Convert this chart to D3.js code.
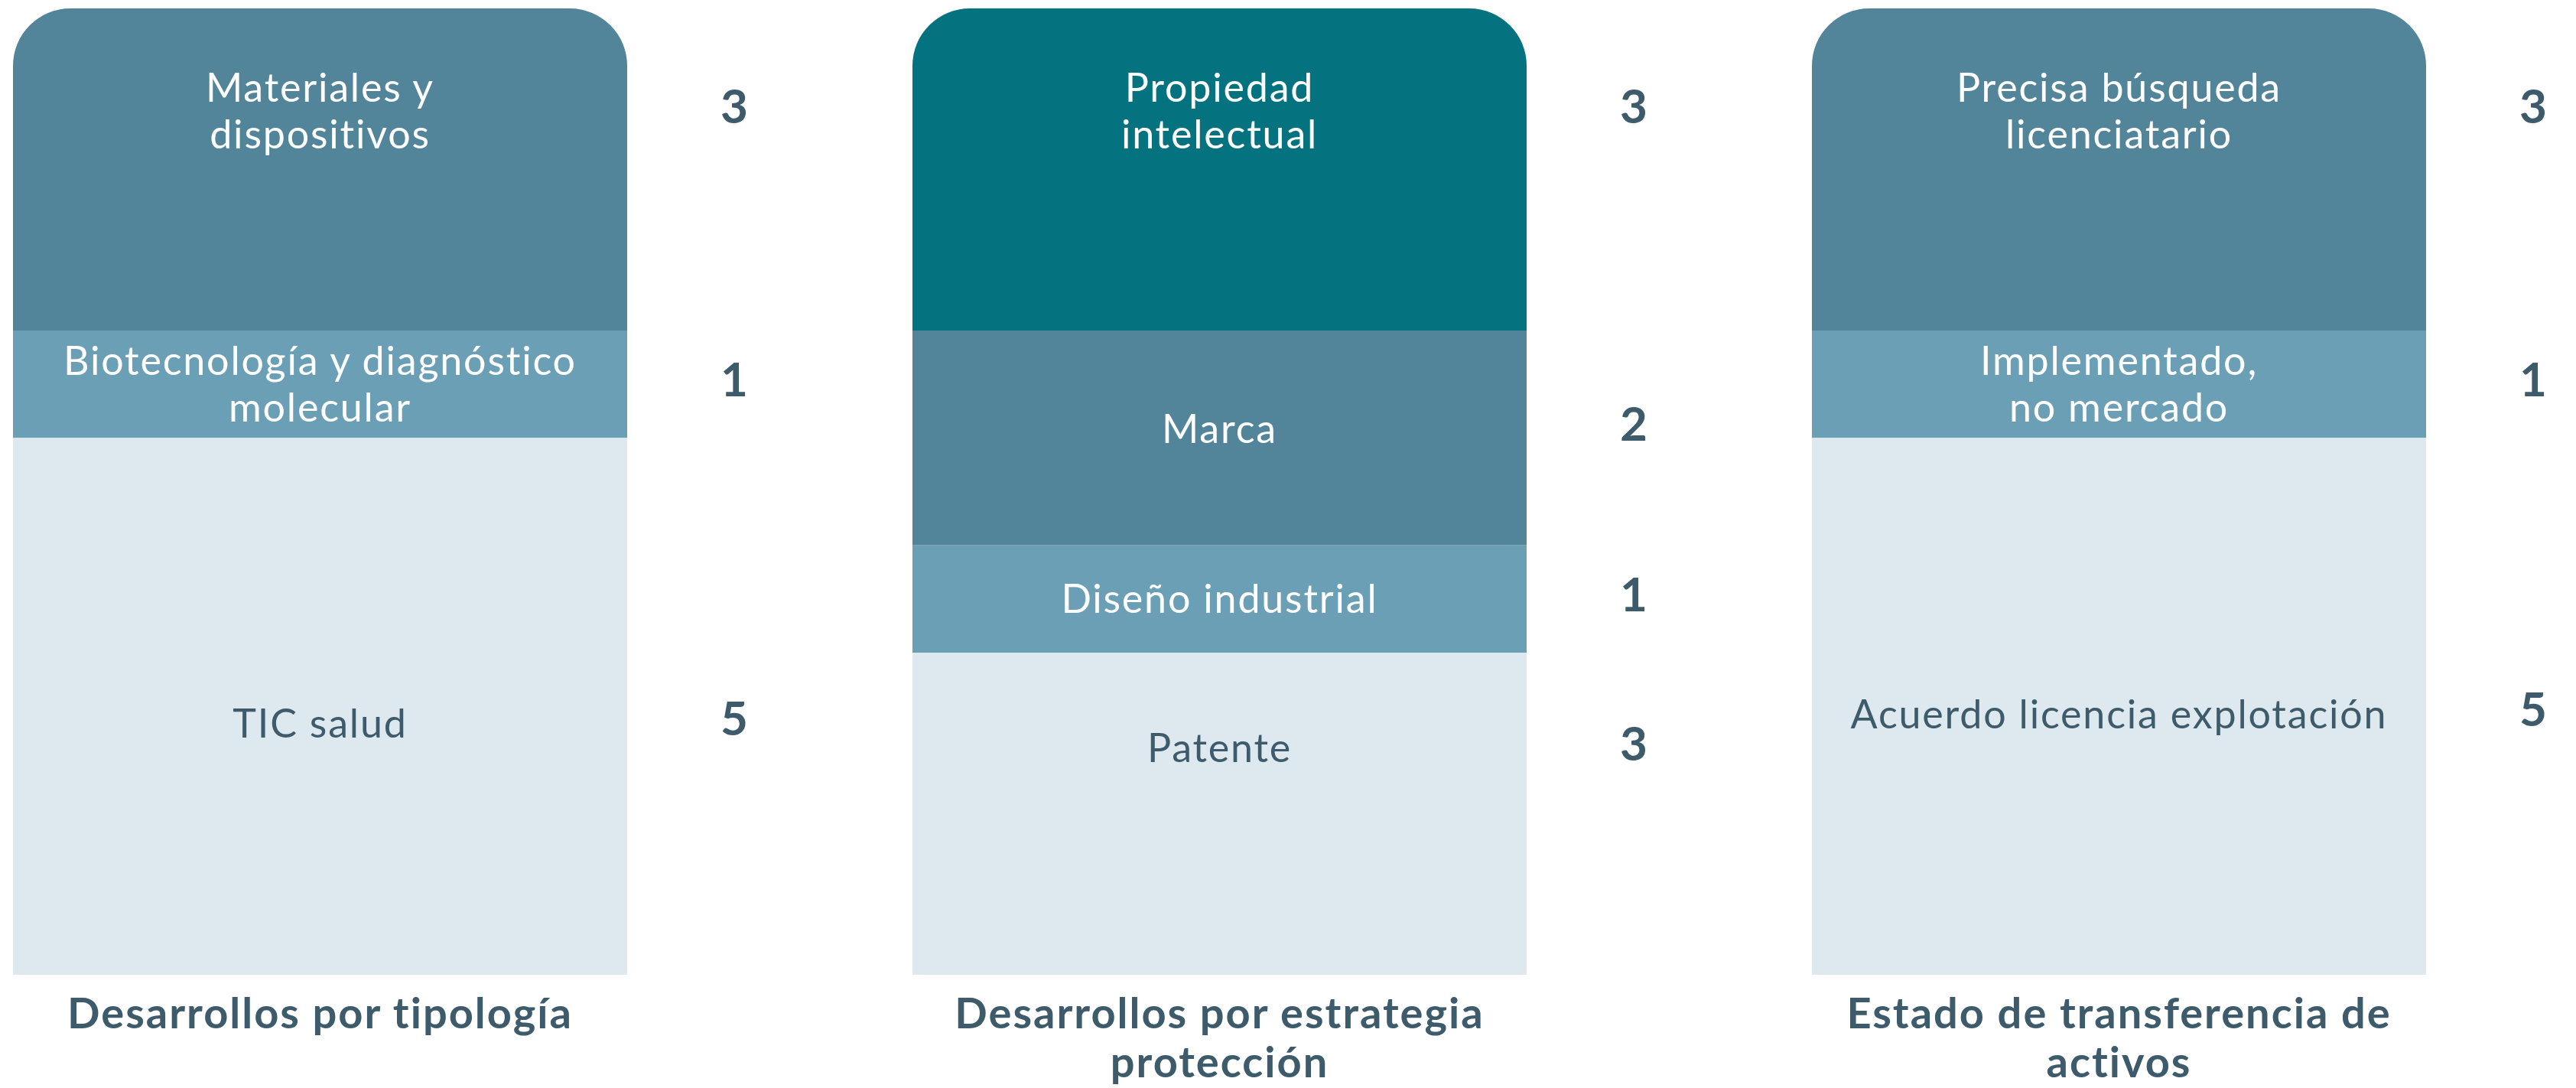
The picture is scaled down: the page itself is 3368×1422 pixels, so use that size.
<!DOCTYPE html>
<html><head><meta charset="utf-8">
<script src="https://cdn.jsdelivr.net/npm/d3@7"></script>
<style>html,body{margin:0;padding:0;background:#fff;}svg{display:block;}</style>
</head><body>
<svg id="chart" width="3368" height="1422"></svg>
<script>
// ---- data ----
const panelTitles = [
  ["Desarrollos por tipología"],
  ["Desarrollos por estrategia", "protección"],
  ["Estado de transferencia de", "activos"]
];
const tipologiaLabels = [["Materiales y", "dispositivos"], ["Biotecnología y diagnóstico", "molecular"], ["TIC salud"]];
const tipologiaValues = [3, 1, 5];
const estrategiaLabels = [["Propiedad", "intelectual"], ["Marca"], ["Diseño industrial"], ["Patente"]];
const estrategiaValues = [3, 2, 1, 3];
const transferenciaLabels = [["Precisa búsqueda", "licenciatario"], ["Implementado,", "no mercado"], ["Acuerdo licencia explotación"]];
const transferenciaValues = [3, 1, 5];

// ---- style / layout ----
const DARK = "#52849A", TEAL = "#04737F", MID = "#6A9FB5", LIGHT = "#DDE8EF", INK = "#3E5B6B";
const panelColors = [[DARK, MID, LIGHT], [TEAL, DARK, MID, LIGHT], [DARK, MID, LIGHT]];
const labelNudge = { "TIC salud": 22, "Patente": -86, "Marca": -12, "Acuerdo licencia explotación": 10 };

const panels = [
  { labels: tipologiaLabels, values: tipologiaValues },
  { labels: estrategiaLabels, values: estrategiaValues },
  { labels: transferenciaLabels, values: transferenciaValues }
];

const svg = d3.select("#chart");
const plotTop = 11, plotBottom = 1274;
const x = d3.scaleBand().domain(d3.range(panels.length)).range([17, 3172]).paddingInner(373 / 1176).paddingOuter(0);
const maxTotal = d3.max(panels, p => d3.sum(p.values));
const y = d3.scaleLinear().domain([0, maxTotal]).range([plotTop, plotBottom]);

const FS = 52, LH = 61, CAP = 37;
const font = "Lato, 'Open Sans', sans-serif";
const defs = svg.append("defs");

panels.forEach((p, i) => {
  const x0 = x(i), w = x.bandwidth();
  const g = svg.append("g");
  const clipId = "clip" + i;
  defs.append("clipPath").attr("id", clipId)
    .append("rect").attr("x", x0).attr("y", y(0)).attr("width", w)
    .attr("height", y(maxTotal) - y(0) + 200).attr("rx", 75).attr("ry", 75);

  let cum = 0;
  const segs = p.values.map((v, j) => {
    const s = { v, j, lines: p.labels[j], y0: y(cum), y1: y(cum + v), color: panelColors[i][j] };
    cum += v;
    return s;
  });

  g.append("g").attr("clip-path", `url(#${clipId})`)
    .selectAll("rect").data(segs).join("rect")
    .attr("x", x0).attr("width", w)
    .attr("y", d => d.y0).attr("height", d => d.y1 - d.y0)
    .attr("fill", d => d.color);

  segs.forEach(s => {
    const n = s.lines.length;
    let b1;
    if (s.j === 0) {
      b1 = s.y0 + 122;
    } else {
      const c = (s.y0 + s.y1) / 2 + (labelNudge[s.lines.join(" ")] || 0);
      b1 = c - (n - 1) * LH / 2 + CAP / 2;
    }
    const center = b1 - CAP + ((n - 1) * LH + CAP) / 2;
    const txtColor = s.color === LIGHT ? INK : "#ffffff";
    const t = g.append("text")
      .attr("x", x0 + w / 2).attr("text-anchor", "middle")
      .attr("font-family", font).attr("font-size", FS).attr("font-weight", 400)
      .attr("letter-spacing", 1.8)
      .attr("fill", txtColor);
    s.lines.forEach((ln, k) => {
      t.append("tspan").attr("x", x0 + w / 2).attr("y", b1 + k * LH).text(ln);
    });
    g.append("text")
      .attr("x", x0 + w + 140).attr("y", center - 6 + 22)
      .attr("text-anchor", "middle")
      .attr("font-family", font).attr("font-size", 62).attr("font-weight", 700)
      .attr("fill", INK)
      .text(s.v);
  });

  const tt = g.append("text").attr("text-anchor", "middle")
    .attr("font-family", font).attr("font-size", 56).attr("font-weight", 700)
    .attr("letter-spacing", 2).attr("fill", INK);
  panelTitles[i].forEach((ln, k) => {
    tt.append("tspan").attr("x", x0 + w / 2).attr("y", plotBottom + 70 + k * 64).text(ln);
  });
});
</script>
</body></html>
